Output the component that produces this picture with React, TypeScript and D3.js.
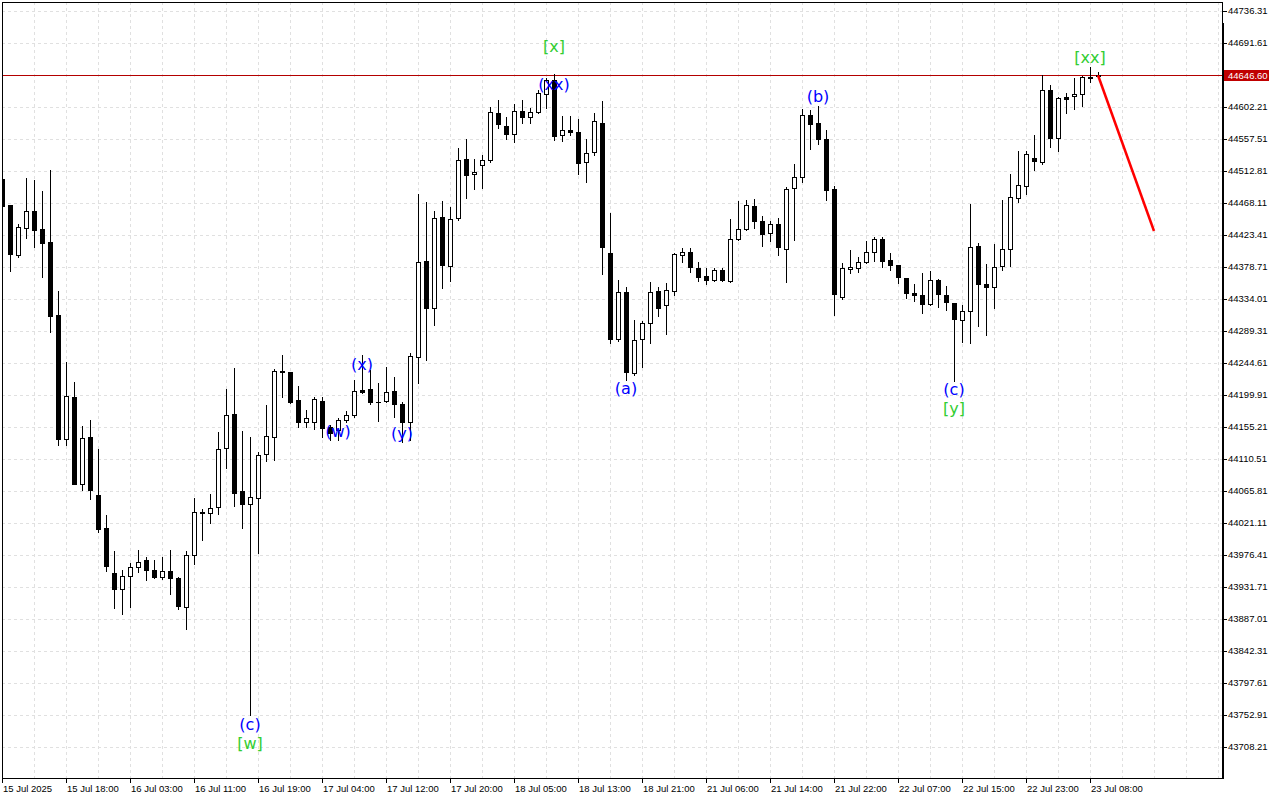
import React from "react";
import * as d3 from "d3";

// ---- Data (H1 candles) ----
const opens = [
  44501.6, 44465.3, 44395.9, 44432.8, 44456.5, 44431.4, 44413.6, 44311.7, 44138.9, 44196.7,
  44075.2, 44141.3, 44060.2, 44014.1, 43951.1, 43929.6, 43947.4, 43959.2, 43969.4, 43955.5,
  43946.0, 43954.1, 43944.3, 43904.2, 43976.0, 44036.1, 44034.7, 44043.0, 44125.6, 44173.0,
  44065.4, 44047.2, 44055.6, 44117.1, 44141.7, 44233.0, 44232.0, 44192.5, 44162.6, 44162.6,
  44191.5, 44154.8, 44151.0, 44165.0, 44171.6, 44206.9, 44208.3, 44190.6, 44192.0, 44205.5,
  44186.9, 44161.8, 44252.6, 44386.5, 44321.0, 44448.6, 44380.5, 44446.7, 44529.6, 44508.2,
  44520.8, 44527.8, 44593.8, 44575.3, 44564.1, 44596.2, 44587.8, 44594.8, 44620.0, 44639.9,
  44562.7, 44570.1, 44567.3, 44524.8, 44538.7, 44579.9, 44397.9, 44278.1, 44343.8, 44230.6,
  44277.7, 44300.1, 44345.2, 44325.2, 44345.6, 44395.1, 44399.2, 44377.9, 44365.7, 44360.6,
  44374.5, 44359.2, 44417.4, 44431.4, 44463.9, 44443.0, 44426.6, 44438.4, 44404.3, 44488.7,
  44504.4, 44591.0, 44579.9, 44557.1, 44487.7, 44336.8, 44375.8, 44377.9, 44386.1, 44399.2,
  44417.4, 44388.5, 44381.5, 44362.7, 44341.8, 44339.2, 44327.0, 44361.1, 44339.2, 44328.0,
  44304.3, 44317.3, 44407.7, 44354.5, 44350.3, 44380.5, 44403.4, 44475.1, 44491.7, 44531.0,
  44524.8, 44625.5, 44558.5, 44615.8, 44617.2, 44620.0, 44643.7, 44645.5,
];
const highs = [
  44504.4, 44466.0, 44438.8, 44502.6, 44499.8, 44484.9, 44513.8, 44345.6, 44246.0, 44218.1,
  44156.6, 44165.0, 44125.0, 44032.3, 43982.0, 43955.5, 43965.2, 43983.4, 43973.6, 43969.4,
  43973.6, 43983.4, 43945.4, 43981.6, 44055.5, 44040.7, 44061.6, 44147.9, 44208.2, 44237.3,
  44149.6, 44140.8, 44119.9, 44186.0, 44236.2, 44255.8, 44232.5, 44212.5, 44179.0, 44197.1,
  44197.1, 44158.0, 44167.4, 44178.0, 44220.9, 44255.8, 44234.8, 44216.0, 44239.4, 44224.8,
  44190.6, 44258.2, 44480.7, 44469.5, 44456.9, 44470.9, 44462.5, 44544.9, 44557.5, 44529.6,
  44535.2, 44601.8, 44612.0, 44587.8, 44606.8, 44611.6, 44600.4, 44626.0, 44642.3, 44647.9,
  44589.6, 44589.6, 44585.0, 44557.1, 44593.8, 44610.6, 44453.7, 44360.6, 44350.3, 44304.7,
  44303.3, 44357.8, 44350.3, 44356.0, 44398.0, 44404.8, 44404.8, 44386.1, 44377.0, 44377.0,
  44378.0, 44445.8, 44470.9, 44471.9, 44473.7, 44450.0, 44442.6, 44447.2, 44490.9, 44522.6,
  44599.0, 44597.6, 44604.0, 44570.1, 44491.9, 44384.2, 44402.5, 44392.3, 44415.5, 44421.0,
  44421.0, 44397.9, 44382.0, 44363.0, 44355.0, 44370.6, 44373.5, 44362.0, 44352.2, 44328.5,
  44325.6, 44466.7, 44411.8, 44383.3, 44410.8, 44472.3, 44508.6, 44540.8, 44540.8, 44563.1,
  44646.5, 44633.0, 44616.6, 44621.4, 44643.1, 44645.9, 44658.1, 44651.1,
];
const lows = [
  44462.5, 44373.5, 44393.1, 44419.6, 44407.1, 44364.1, 44288.3, 44130.1, 44130.1, 44075.0,
  44067.2, 44055.1, 44009.0, 43954.5, 43902.8, 43894.0, 43904.2, 43952.5, 43940.8, 43944.3,
  43942.9, 43921.9, 43900.6, 43872.6, 43964.3, 43997.4, 44021.5, 44033.3, 44097.7, 44044.9,
  44014.6, 43752.9, 43978.8, 44107.7, 44109.1, 44197.1, 44188.3, 44154.8, 44154.8, 44152.0,
  44141.7, 44137.1, 44137.1, 44162.6, 44169.6, 44203.0, 44188.0, 44164.0, 44190.6, 44169.6,
  44134.7, 44137.1, 44216.0, 44248.4, 44297.7, 44349.6, 44358.5, 44444.0, 44475.1, 44488.2,
  44489.6, 44524.8, 44572.5, 44557.1, 44552.9, 44579.9, 44579.9, 44593.4, 44600.4, 44556.1,
  44555.1, 44562.7, 44509.2, 44498.1, 44535.2, 44368.9, 44273.0, 44276.0, 44220.2, 44227.9,
  44239.4, 44273.0, 44310.7, 44285.1, 44339.6, 44386.1, 44371.7, 44358.5, 44355.0, 44359.0,
  44358.5, 44357.3, 44416.0, 44430.4, 44433.6, 44408.5, 44415.5, 44395.5, 44357.3, 44416.9,
  44498.1, 44543.1, 44550.1, 44471.9, 44312.1, 44334.4, 44370.2, 44371.7, 44384.7, 44386.5,
  44378.7, 44374.1, 44356.0, 44335.8, 44331.6, 44314.0, 44325.6, 44323.3, 44318.7, 44218.8,
  44274.4, 44272.1, 44296.3, 44284.2, 44321.0, 44374.5, 44380.5, 44469.9, 44481.1, 44514.2,
  44523.0, 44546.3, 44541.2, 44594.3, 44599.8, 44604.0, 44636.7, 44644.2,
];
const closes = [
  44464.3, 44397.3, 44434.2, 44456.5, 44430.8, 44412.7, 44310.7, 44138.9, 44198.1, 44076.0,
  44139.5, 44067.2, 44012.7, 43961.0, 43929.6, 43947.4, 43959.7, 43967.1, 43955.0, 43945.4,
  43954.1, 43944.0, 43905.6, 43976.0, 44036.1, 44034.7, 44041.7, 44124.2, 44171.6, 44063.4,
  44047.2, 44057.0, 44115.7, 44142.2, 44233.4, 44232.4, 44190.6, 44162.6, 44167.4, 44194.7,
  44154.2, 44146.8, 44165.0, 44171.6, 44205.1, 44204.7, 44189.7, 44190.0, 44204.7, 44186.9,
  44162.6, 44254.4, 44386.1, 44321.0, 44446.7, 44381.4, 44445.3, 44527.8, 44507.6, 44511.0,
  44528.2, 44594.8, 44578.0, 44564.1, 44596.2, 44587.8, 44594.8, 44621.4, 44639.9, 44561.3,
  44570.1, 44567.3, 44523.9, 44537.5, 44582.2, 44407.1, 44278.1, 44343.8, 44232.5, 44276.8,
  44300.1, 44343.4, 44321.9, 44346.1, 44396.9, 44399.2, 44378.7, 44364.8, 44361.1, 44374.5,
  44360.2, 44417.4, 44431.4, 44464.9, 44442.6, 44425.2, 44438.4, 44406.3, 44487.7, 44504.4,
  44590.6, 44578.0, 44557.1, 44485.8, 44341.0, 44377.0, 44378.7, 44386.1, 44399.2, 44417.4,
  44387.5, 44381.1, 44364.1, 44341.8, 44339.6, 44326.6, 44361.1, 44341.0, 44329.4, 44305.7,
  44317.7, 44406.3, 44354.5, 44350.3, 44379.3, 44403.4, 44476.1, 44493.1, 44536.1, 44526.8,
  44625.5, 44559.3, 44614.4, 44613.8, 44620.4, 44643.7, 44642.3, 44646.6,
];

const timeLabels = [
  "15 Jul 2025", "15 Jul 18:00", "16 Jul 03:00", "16 Jul 11:00", "16 Jul 19:00",
  "17 Jul 04:00", "17 Jul 12:00", "17 Jul 20:00", "18 Jul 05:00", "18 Jul 13:00",
  "18 Jul 21:00", "21 Jul 06:00", "21 Jul 14:00", "21 Jul 22:00", "22 Jul 07:00",
  "22 Jul 15:00", "22 Jul 23:00", "23 Jul 08:00",
];
const barsPerTimeLabel = 8;

const priceTicks = [
  44736.31, 44691.61, 44646.91, 44602.21, 44557.51, 44512.81, 44468.11, 44423.41,
  44378.71, 44334.01, 44289.31, 44244.61, 44199.91, 44155.21, 44110.51, 44065.81,
  44021.11, 43976.41, 43931.71, 43887.01, 43842.31, 43797.61, 43752.91, 43708.21,
];

const currentPrice = 44646.6;
const priceMin = 43664.9;
const priceMax = 44748.88;

// Elliott wave labels: bar index, text, price, degree
const waveIdx = [31, 31, 42, 45, 50, 69, 69, 78, 102, 119, 119, 136];
const waveText = ["(c)", "[w]", "(w)", "(x)", "(y)", "[x]", "(xx)", "(a)", "(b)", "(c)", "[y]", "[xx]"];
const wavePrice = [43740.3, 43713.1, 44149.6, 44243.2, 44146.8, 44687.4, 44634.3, 44208.3, 44616.2, 44206.9, 44180.4, 44670.7];
const waveDegree = ["minor", "major", "minor", "minor", "minor", "major", "minor", "minor", "minor", "minor", "major", "major"];

// Forecast line
const forecastIdx = [137, 144];
const forecastPrice = [44646.6, 44429.0];

export default function App() {
  const W = 1280;
  const H = 800;
  const left = 2;
  const top = 2;
  const right = 1222;
  const bottom = 778;
  const n = opens.length;

  const y = d3.scaleLinear().domain([priceMin, priceMax]).range([bottom, top]);
  const x = d3.scaleLinear().domain([0, n - 1]).range([2, 2 + 8 * (n - 1)]);

  const axisFont = "'Liberation Sans', Arial, sans-serif";
  const crisp = (v: number) => Math.round(v) + 0.5;

  const vGrid: number[] = [];
  for (let k = 4; x(k) < right - 1; k += 4) vGrid.push(x(k));

  const line = d3
    .line<number>()
    .x((d) => x(forecastIdx[d]))
    .y((d) => y(forecastPrice[d]));

  return (
    <svg
      width={W}
      height={H}
      style={{ position: "absolute", left: 0, top: 0, background: "#fff" }}
    >
      <defs>
        <clipPath id="plot">
          <rect x={left + 1} y={top + 1} width={right - left - 1} height={bottom - top - 1} />
        </clipPath>
      </defs>
      <rect x={0} y={0} width={W} height={H} fill="#fff" />

      {/* grid */}
      <g stroke="#e0e0e0" strokeWidth={1} strokeDasharray="3,3">
        {priceTicks.map((p, i) => (
          <line key={"h" + i} x1={left} x2={right} y1={crisp(y(p))} y2={crisp(y(p))} />
        ))}
        {vGrid.map((vx, i) => (
          <line key={"v" + i} x1={vx + 0.5} x2={vx + 0.5} y1={top} y2={bottom} />
        ))}
      </g>

      {/* current price line */}
      <line
        x1={left}
        x2={right}
        y1={crisp(y(currentPrice))}
        y2={crisp(y(currentPrice))}
        stroke="#b40000"
        strokeWidth={1}
      />

      {/* candles */}
      <g clipPath="url(#plot)">
        {opens.map((o, i) => {
          const c = closes[i];
          const cx = x(i);
          const bull = c >= o;
          const yTop = Math.round(y(Math.max(o, c)));
          const yBot = Math.round(y(Math.min(o, c)));
          const h = Math.max(yBot - yTop, 0);
          return (
            <g key={i}>
              <line
                x1={cx + 0.5}
                x2={cx + 0.5}
                y1={Math.round(y(highs[i]))}
                y2={Math.round(y(lows[i])) + 1}
                stroke="#000"
                strokeWidth={1}
              />
              {h === 0 ? (
                <line x1={cx - 2} x2={cx + 3} y1={yTop + 0.5} y2={yTop + 0.5} stroke="#000" strokeWidth={1} />
              ) : (
                <rect
                  x={cx - 1.5}
                  y={yTop + 0.5}
                  width={4}
                  height={h}
                  fill={bull ? "#fff" : "#000"}
                  stroke="#000"
                  strokeWidth={1}
                />
              )}
            </g>
          );
        })}
        <path
          d={line([0, 1]) || ""}
          fill="none"
          stroke="#ff0000"
          strokeWidth={2.5}
        />
      </g>

      {/* wave labels */}
      <g fontFamily="'DejaVu Sans', sans-serif" fontSize={16} textAnchor="middle">
        {waveIdx.map((bi, i) => (
          <text
            key={"w" + i}
            x={x(bi)}
            y={y(wavePrice[i])}
            dominantBaseline="central"
            fill={waveDegree[i] === "major" ? "#32cd32" : "#0000ff"}
          >
            {waveText[i]}
          </text>
        ))}
      </g>

      {/* frame */}
      <rect
        x={left + 0.5}
        y={top + 0.5}
        width={right - left}
        height={bottom - top}
        fill="none"
        stroke="#000"
        strokeWidth={1}
      />
      <line x1={right + 1.5} x2={right + 1.5} y1={23} y2={bottom + 1} stroke="#000" strokeWidth={1} />

      {/* right price axis */}
      <g fontFamily={axisFont} fontSize={9.5} fill="#000">
        {priceTicks.map((p, i) => (
          <g key={"pt" + i}>
            <line x1={right + 1} x2={right + 5} y1={crisp(y(p))} y2={crisp(y(p))} stroke="#000" />
            <text x={right + 6} y={y(p)} dominantBaseline="central">
              {p.toFixed(2)}
            </text>
          </g>
        ))}
        <rect x={1224} y={Math.round(y(currentPrice)) - 5} width={45} height={11} fill="#c00000" />
        <text x={right + 6} y={y(currentPrice) + 0.5} dominantBaseline="central" fill="#fff">
          {currentPrice.toFixed(2)}
        </text>
      </g>

      {/* bottom time axis */}
      <g fontFamily={axisFont} fontSize={9.5} fill="#000">
        {timeLabels.map((t, k) => {
          const tx = x(k * barsPerTimeLabel);
          return (
            <g key={"tl" + k}>
              <line x1={tx + 0.5} x2={tx + 0.5} y1={bottom} y2={bottom + 5} stroke="#000" />
              <text x={tx + 1} y={bottom + 10} dominantBaseline="central">
                {t}
              </text>
            </g>
          );
        })}
      </g>
    </svg>
  );
}
